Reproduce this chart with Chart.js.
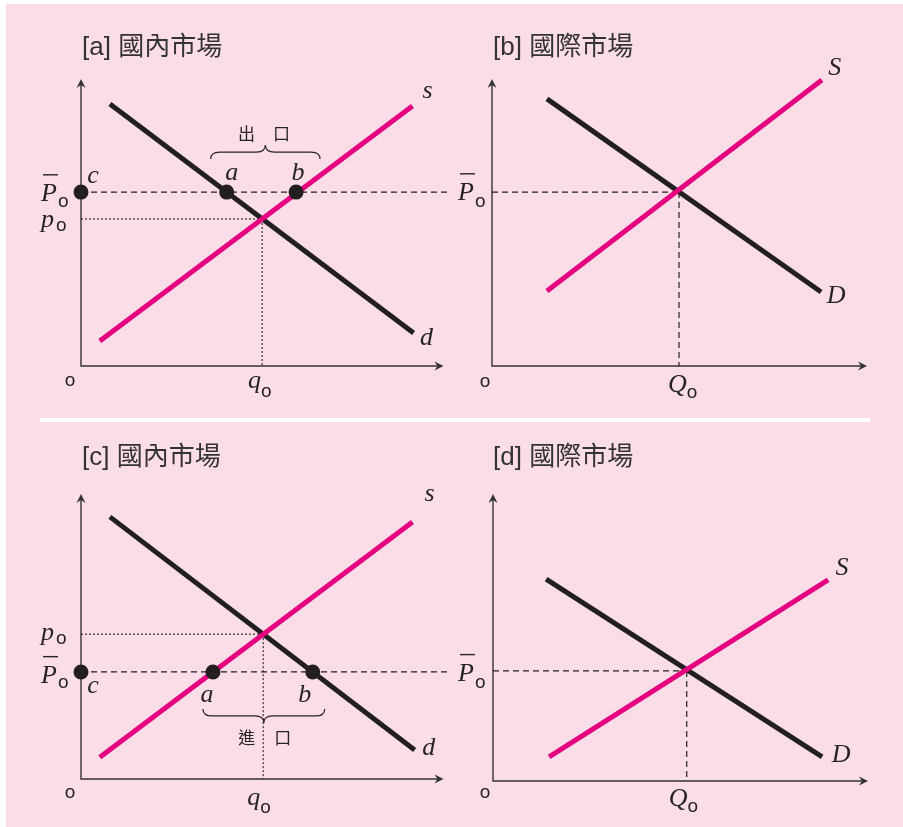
<!DOCTYPE html>
<html>
<head>
<meta charset="utf-8">
<title>國內市場與國際市場</title>
<script src="https://cdn.jsdelivr.net/npm/chart.js@4.4.1/dist/chart.umd.min.js"></script>
<style>
  body { margin: 0; background: #fff; }
  #page { position: relative; width: 903px; height: 827px; overflow: hidden; }
  #bg { position: absolute; left: 6px; top: 4px; right: 0; bottom: 0; background: #fbdde8; }
  #band { position: absolute; left: 40px; top: 418px; width: 830px; height: 4px; background: #fff; }
  canvas { position: absolute; }
</style>
</head>
<body>
<div id="page">
  <div id="bg"></div>
  <div id="band"></div>
  <canvas id="chartA" width="450" height="415" style="left:0;top:0"></canvas>
  <canvas id="chartB" width="453" height="415" style="left:450px;top:0"></canvas>
  <canvas id="chartC" width="450" height="412" style="left:0;top:415px"></canvas>
  <canvas id="chartD" width="453" height="412" style="left:450px;top:415px"></canvas>
</div>
<script>
// quantity (x) and price (y) on a 0-100 scale for every panel

// [a] domestic market, world price above p0 -> exports
const aDemandQ = [8.0, 92.0];
const aDemandP = [91.6, 11.5];
const aSupplyQ = [5.2, 91.7];
const aSupplyP = [8.7, 90.9];
const aEquil = [50.1, 51.4];      // q0, p0
const aWorldP = 60.8;             // P̄0
const aDotQ = [0, 40.3, 59.5];    // c, a, b on the P̄0 line

// [b] world market
const bDemandQ = [14.7, 88.0];
const bDemandP = [93.4, 25.9];
const bSupplyQ = [14.7, 88.2];
const bSupplyP = [26.2, 100];
const bEquil = [50.0, 60.8];      // Q0, P̄0

// [c] domestic market, world price below p0 -> imports
const cDemandQ = [8.0, 92.3];
const cDemandP = [92.3, 10.2];
const cSupplyQ = [5.2, 91.7];
const cSupplyP = [7.7, 90.5];
const cEquil = [50.4, 51.0];
const cWorldP = 37.7;
const cDotQ = [0, 36.5, 64.1];

// [d] world market
const dDemandQ = [14.2, 88.0];
const dDemandP = [70.6, 8.4];
const dSupplyQ = [15.0, 89.6];
const dSupplyP = [8.4, 70.3];
const dEquil = [51.8, 38.5];

// the P̄0 guide in the domestic panels runs a bit past the axis end
const worldLineEnd = 101.7;

const PINK = '#e5007f';
const INK = '#231f20';
const TEXT = '#262324';
const SERIF_IT = 'italic 26px "Liberation Serif", "DejaVu Serif", serif';
const SANS_SUB = '19px "Liberation Sans", Arial, sans-serif';
const TITLE_FONT = '26px "Liberation Sans", "Noto Sans CJK TC", sans-serif';
const CJK_FONT = '17px "Noto Sans CJK TC", sans-serif';

function pts(xs, ys) {
  return xs.map((x, i) => ({ x: x, y: ys[i] }));
}

function line(data, color, width, dash, order) {
  return {
    data: data,
    showLine: true,
    borderColor: color,
    borderWidth: width,
    borderDash: dash || [],
    pointRadius: 0,
    pointHoverRadius: 0,
    fill: false,
    clip: false,
    order: order
  };
}

// text / annotation layout per canvas
const panelConfig = {
  chartA: {
    title: '[a] 國內市場', titleX: 1, titleY: 48, origin: [-11, 20],
    curveLabels: [['s', 'supply', 15, -8], ['d', 'demand', 13, 12]],
    yLabelX: -40,
    yLabels: [
      { letter: 'P', value: aWorldP, dy: 9, subDy: 6, gap: 1, bar: true },
      { letter: 'p', value: aEquil[1], dy: 8, subDy: 4, gap: 2 }
    ],
    xLabel: { letter: 'q', value: aEquil[0], dx: -14, dy: 22, subDy: 9, gap: 0 },
    dotLabels: [['c', 12, -9], ['a', 5, -12], ['b', 2, -12]],
    brace: { left: -16, right: 24, dy: -33, dir: -1, chars: ['出', '口'], charDx: [-19, 16], charDy: -26 }
  },
  chartB: {
    title: '[b] 國際市場', titleX: 1, titleY: 48, origin: [-7, 21],
    curveLabels: [['S', 'supply', 13, -5], ['D', 'demand', 15, 11]],
    yLabelX: -34,
    yLabels: [{ letter: 'P', value: bEquil[1], dy: 8, subDy: 7, gap: 1, bar: true }],
    xLabel: { letter: 'Q', value: bEquil[0], dx: -11, dy: 26, subDy: 6, gap: 0 }
  },
  chartC: {
    title: '[c] 國內市場', titleX: 1, titleY: 43, origin: [-11, 19],
    curveLabels: [['s', 'supply', 17, -21], ['d', 'demand', 14, 5]],
    yLabelX: -40,
    yLabels: [
      { letter: 'P', value: cWorldP, dy: 11, subDy: 5, gap: 1, bar: true },
      { letter: 'p', value: cEquil[1], dy: 6, subDy: 4, gap: 2 }
    ],
    xLabel: { letter: 'q', value: cEquil[0], dx: -16, dy: 26, subDy: 8, gap: 0 },
    dotLabels: [['c', 12, 21], ['a', -6, 30], ['b', -8, 30]],
    brace: { left: -10, right: 12, dy: 37, dir: 1, chars: ['進', '口'], charDx: [-17, 19], charDy: 29 }
  },
  chartD: {
    title: '[d] 國際市場', titleX: 0, titleY: 43, origin: [-8, 17],
    curveLabels: [['S', 'supply', 14, -5], ['D', 'demand', 19, 5]],
    yLabelX: -35,
    yLabels: [{ letter: 'P', value: dEquil[1], dy: 10, subDy: 7, gap: 1, bar: true }],
    xLabel: { letter: 'Q', value: dEquil[0], dx: -18, dy: 25, subDy: 6, gap: 0 }
  }
};

function mathLabel(ctx, letter, x, base, subDy, gap, bar) {
  ctx.font = SERIF_IT;
  ctx.textAlign = 'left';
  ctx.fillText(letter, x, base);
  const w = ctx.measureText(letter).width;
  if (bar) ctx.fillRect(x + 2, base - 27, 15, 1.4);
  ctx.font = SANS_SUB;
  ctx.fillText('o', x + w + gap, base + subDy);
}

function drawBrace(ctx, x1, x2, yEnd, dir) {
  const xm = (x1 + x2) / 2, yb = yEnd + dir * 7, yt = yEnd + dir * 14, r = 9;
  ctx.beginPath();
  ctx.moveTo(x1, yEnd);
  ctx.quadraticCurveTo(x1, yb, x1 + r, yb);
  ctx.lineTo(xm - r, yb);
  ctx.quadraticCurveTo(xm, yb, xm, yt);
  ctx.quadraticCurveTo(xm, yb, xm + r, yb);
  ctx.lineTo(x2 - r, yb);
  ctx.quadraticCurveTo(x2, yb, x2, yEnd);
  ctx.stroke();
}

const decor = {
  id: 'decor',
  beforeDatasetsDraw(chart) {
    const ctx = chart.ctx, area = chart.chartArea;
    ctx.save();
    ctx.strokeStyle = '#333';
    ctx.fillStyle = '#333';
    ctx.lineWidth = 1.4;
    ctx.beginPath();
    ctx.moveTo(area.left, area.top + 3);
    ctx.lineTo(area.left, area.bottom);
    ctx.lineTo(area.right - 3, area.bottom);
    ctx.stroke();
    // arrow heads
    ctx.beginPath();
    ctx.moveTo(area.left, area.top - 1);
    ctx.lineTo(area.left - 4.5, area.top + 8);
    ctx.lineTo(area.left, area.top + 5);
    ctx.lineTo(area.left + 4.5, area.top + 8);
    ctx.closePath();
    ctx.fill();
    ctx.beginPath();
    ctx.moveTo(area.right + 1, area.bottom);
    ctx.lineTo(area.right - 8, area.bottom - 4.5);
    ctx.lineTo(area.right - 5, area.bottom);
    ctx.lineTo(area.right - 8, area.bottom + 4.5);
    ctx.closePath();
    ctx.fill();
    ctx.restore();
  },
  afterDraw(chart) {
    const p = panelConfig[chart.canvas.id];
    const ctx = chart.ctx, area = chart.chartArea;
    const xs = chart.scales.x, ys = chart.scales.y;
    ctx.save();
    ctx.fillStyle = TEXT;
    ctx.strokeStyle = TEXT;

    ctx.font = TITLE_FONT;
    ctx.fillStyle = '#333';
    ctx.textAlign = 'left';
    ctx.textBaseline = 'middle';
    ctx.fillText(p.title, area.left + p.titleX, p.titleY);
    ctx.textBaseline = 'alphabetic';
    ctx.fillStyle = TEXT;

    ctx.font = SANS_SUB;
    ctx.textAlign = 'center';
    ctx.fillText('o', area.left + p.origin[0], area.bottom + p.origin[1]);

    ctx.font = SERIF_IT;
    p.curveLabels.forEach(([txt, key, dx, dy]) => {
      const data = p.series[key];
      const last = data[data.length - 1];
      ctx.textAlign = 'center';
      ctx.fillText(txt, xs.getPixelForValue(last.x) + dx, ys.getPixelForValue(last.y) + dy);
    });

    p.yLabels.forEach(l => {
      const y = ys.getPixelForValue(l.value);
      mathLabel(ctx, l.letter, area.left + p.yLabelX, y + l.dy, l.subDy, l.gap, l.bar);
    });

    const xl = p.xLabel;
    mathLabel(ctx, xl.letter, xs.getPixelForValue(xl.value) + xl.dx, area.bottom + xl.dy, xl.subDy, xl.gap, false);

    if (p.dotLabels) {
      const dots = p.series.dots;
      ctx.font = SERIF_IT;
      ctx.textAlign = 'center';
      p.dotLabels.forEach(([txt, dx, dy], i) => {
        ctx.fillText(txt, xs.getPixelForValue(dots[i].x) + dx, ys.getPixelForValue(dots[i].y) + dy);
      });
      const b = p.brace;
      const xa = xs.getPixelForValue(dots[1].x), xb = xs.getPixelForValue(dots[2].x);
      const yEnd = ys.getPixelForValue(dots[0].y) + b.dy;
      ctx.lineWidth = 1.2;
      drawBrace(ctx, xa + b.left, xb + b.right, yEnd, b.dir);
      const xm = (xa + b.left + xb + b.right) / 2;
      ctx.font = CJK_FONT;
      ctx.textBaseline = 'middle';
      b.chars.forEach((ch, i) => ctx.fillText(ch, xm + b.charDx[i], yEnd + b.charDy));
    }
    ctx.restore();
  }
};

function baseOptions(padding) {
  return {
    responsive: false,
    animation: false,
    events: [],
    layout: { padding: padding },
    scales: {
      x: { type: 'linear', min: 0, max: 100, display: false },
      y: { type: 'linear', min: 0, max: 100, display: false }
    },
    plugins: { legend: { display: false }, tooltip: { enabled: false } }
  };
}

function buildDomestic(id, demandQ, demandP, supplyQ, supplyP, equil, worldP, dotQ, padding) {
  const supply = pts(supplyQ, supplyP);
  const demand = pts(demandQ, demandP);
  const dots = pts(dotQ, dotQ.map(() => worldP));
  panelConfig[id].series = { supply: supply, demand: demand, dots: dots };
  const datasets = [
    {
      data: dots, showLine: false, pointRadius: 7.5, pointHoverRadius: 7.5,
      pointBackgroundColor: INK, pointBorderWidth: 0, clip: false, order: 0
    },
    line(supply, PINK, 5, null, 1),
    line(demand, INK, 5, null, 2),
    line([{ x: 0, y: worldP }, { x: worldLineEnd, y: worldP }], INK, 1.2, [6, 4], 3),
    line([{ x: 0, y: equil[1] }, { x: equil[0], y: equil[1] }], INK, 1.1, [2, 2], 4),
    line([{ x: equil[0], y: equil[1] }, { x: equil[0], y: 0 }], INK, 1.1, [2, 2], 5)
  ];
  new Chart(document.getElementById(id), {
    type: 'scatter',
    data: { datasets: datasets },
    options: baseOptions(padding),
    plugins: [decor]
  });
}

function buildWorld(id, demandQ, demandP, supplyQ, supplyP, equil, padding) {
  const supply = pts(supplyQ, supplyP);
  const demand = pts(demandQ, demandP);
  panelConfig[id].series = { supply: supply, demand: demand };
  const datasets = [
    line(supply, PINK, 5, null, 1),
    line(demand, INK, 5, null, 2),
    line([{ x: 0, y: equil[1] }, { x: equil[0], y: equil[1] }], INK, 1.2, [6, 4], 3),
    line([{ x: equil[0], y: equil[1] }, { x: equil[0], y: 0 }], INK, 1.2, [6, 4], 4)
  ];
  new Chart(document.getElementById(id), {
    type: 'scatter',
    data: { datasets: datasets },
    options: baseOptions(padding),
    plugins: [decor]
  });
}

buildDomestic('chartA', aDemandQ, aDemandP, aSupplyQ, aSupplyP, aEquil, aWorldP, aDotQ,
  { left: 81, top: 80, right: 6, bottom: 49 });
buildWorld('chartB', bDemandQ, bDemandP, bSupplyQ, bSupplyP, bEquil,
  { left: 42, top: 80, right: 37, bottom: 49 });
buildDomestic('chartC', cDemandQ, cDemandP, cSupplyQ, cSupplyP, cEquil, cWorldP, cDotQ,
  { left: 81, top: 80, right: 6, bottom: 48 });
buildWorld('chartD', dDemandQ, dDemandP, dSupplyQ, dSupplyP, dEquil,
  { left: 43, top: 80, right: 36, bottom: 46 });
</script>
</body>
</html>
